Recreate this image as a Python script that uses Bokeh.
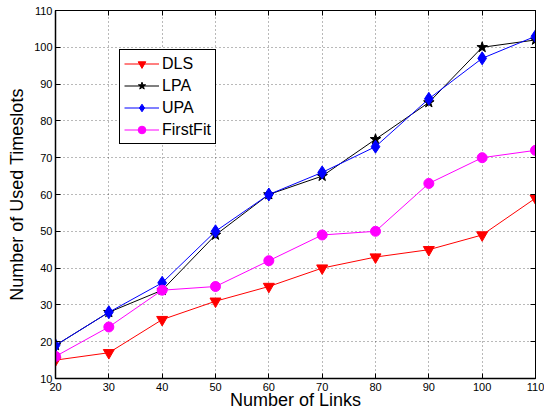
from bokeh.plotting import figure
from bokeh.models import LinearAxis, Legend, LegendItem, Range1d, FixedTicker, CustomLabelingPolicy
from bokeh.embed import file_html
from bokeh.resources import INLINE

links = [20, 30, 40, 50, 60, 70, 80, 90, 100, 110]
dls = [15, 17, 26, 31, 35, 40, 43, 45, 49, 59]
lpa = [19, 28, 34, 49, 60, 65, 75, 85, 100, 102]
upa = [19, 28, 36, 50, 60, 66, 73, 86, 97, 103]
firstfit = [16, 24, 34, 35, 42, 49, 50, 63, 70, 72]
x_ticks = [20, 30, 40, 50, 60, 70, 80, 90, 100, 110]
y_ticks = [10, 20, 30, 40, 50, 60, 70, 80, 90, 100, 110]

FONT = "Liberation Sans"

p = figure(width=544, height=412, output_backend="svg", toolbar_location=None,
           x_range=Range1d(20, 110), y_range=Range1d(10, 110),
           min_border_left=55, min_border_right=9, min_border_top=10, min_border_bottom=34)
p.background_fill_color = "white"
p.border_fill_color = "white"
p.outline_line_color = "black"
p.outline_line_width = 1

for ax in (p.xaxis[0], p.yaxis[0]):
    ax.major_tick_in = 5
    ax.major_tick_out = 0
    ax.minor_tick_in = 0
    ax.minor_tick_out = 0
    ax.axis_line_color = "black"
    ax.axis_line_width = 1.5
    ax.major_label_text_font = FONT
    ax.major_label_text_font_size = "11px"
    ax.major_label_text_color = "black"
    ax.axis_label_text_font = FONT
    ax.axis_label_text_font_size = "18px"
    ax.axis_label_text_font_style = "normal"
    ax.axis_label_text_color = "black"
    ax.major_label_standoff = 3
p.xaxis[0].ticker = FixedTicker(ticks=x_ticks)
p.yaxis[0].ticker = FixedTicker(ticks=y_ticks)
p.xaxis[0].axis_label = "Number of Links"
p.yaxis[0].axis_label = "Number of Used Timeslots"
p.xaxis[0].major_label_standoff = 4
p.xaxis[0].axis_label_standoff = -4
p.yaxis[0].axis_label_standoff = 4

no_labels = "for (const i of indices) { indices.unset(i) } return indices"
top = LinearAxis(ticker=FixedTicker(ticks=x_ticks),
                 major_label_policy=CustomLabelingPolicy(code=no_labels),
                 major_label_text_font_size="1px",
                 major_tick_in=5, major_tick_out=0, minor_tick_in=0, minor_tick_out=0,
                 major_label_standoff=0)
right = LinearAxis(ticker=FixedTicker(ticks=y_ticks),
                   major_label_policy=CustomLabelingPolicy(code=no_labels),
                   major_label_text_font_size="1px",
                   major_tick_in=5, major_tick_out=0, minor_tick_in=0, minor_tick_out=0,
                   major_label_standoff=0)
p.add_layout(top, "above")
p.add_layout(right, "right")

p.xgrid.ticker = FixedTicker(ticks=x_ticks)
p.ygrid.ticker = FixedTicker(ticks=y_ticks)
for g in (p.xgrid[0], p.ygrid[0]):
    g.grid_line_color = "black"
    g.grid_line_alpha = 0.55
    g.grid_line_dash = "1 3"
    g.grid_line_width = 1

series = [
    ("DLS", dls, "red", "inverted_triangle", 11),
    ("LPA", lpa, "black", "star", 11),
    ("UPA", upa, "blue", "diamond", 13),
    ("FirstFit", firstfit, "magenta", "circle", 10),
]
items = []
for name, ys, color, marker, size in series:
    l = p.line(links, ys, line_color=color, line_width=1)
    s = p.scatter(links, ys, marker=marker, size=size, fill_color=color, line_color=color)
    items.append(LegendItem(label=name, renderers=[l, s]))

legend = Legend(items=items, location=(64, 234))
legend.label_text_font = FONT
legend.label_text_font_size = "16px"
legend.label_text_color = "black"
legend.border_line_color = "black"
legend.border_line_width = 1
legend.border_line_alpha = 1
legend.background_fill_alpha = 1
legend.glyph_width = 35
legend.glyph_height = 19
legend.spacing = 3
legend.padding = 4
legend.margin = 0
legend.label_standoff = 3
legend.label_height = 19
p.add_layout(legend, "center")

open("out.html", "w").write(file_html(p, INLINE))
